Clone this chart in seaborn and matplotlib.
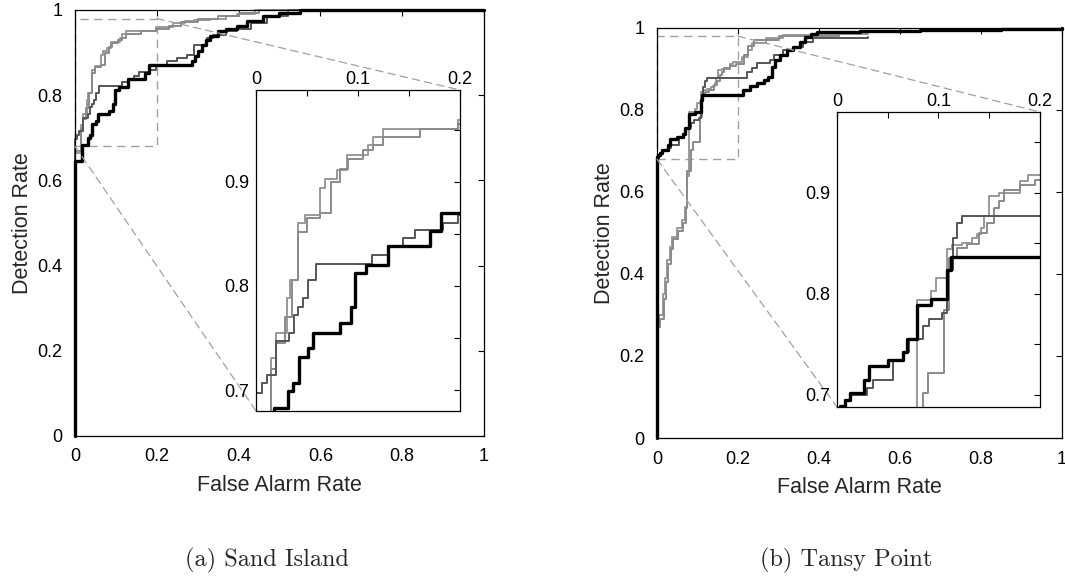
#ROC curves for the two sites, main view plus zoomed inset
import numpy as np
import pandas as pd
import seaborn as sns
import matplotlib.pyplot as plt
from matplotlib.patches import Rectangle, ConnectionPatch

# ---- Sand Island curves (false alarm rate, detection rate) ----
sand_black_fpr = [0, 0, 0.018, 0.031, 0.036, 0.042, 0.051, 0.056, 0.082, 0.093, 0.097, 0.108, 0.129, 0.171, 0.181,
                  0.285, 0.293, 0.30, 0.31, 0.32, 0.33, 0.35, 0.37, 0.395, 0.42, 0.46, 0.50, 0.55, 1.0]
sand_black_tpr = [0, 0.645, 0.683, 0.699, 0.707, 0.732, 0.740, 0.755, 0.764, 0.780, 0.812, 0.820, 0.838, 0.853, 0.870,
                  0.880, 0.891, 0.903, 0.918, 0.930, 0.940, 0.950, 0.955, 0.962, 0.975, 0.985, 0.993, 1.0, 1.0]

sand_dark_fpr = [0, 0, 0.0056, 0.011, 0.02, 0.032, 0.037, 0.0415, 0.046, 0.051, 0.059, 0.114, 0.129, 0.144, 0.156,
                 0.183, 0.198, 0.224, 0.249, 0.273, 0.29, 0.322, 0.338, 0.37, 0.395, 0.43, 0.47, 0.52, 1.0]
sand_dark_tpr = [0, 0.697, 0.707, 0.715, 0.747, 0.755, 0.772, 0.780, 0.788, 0.806, 0.821, 0.830, 0.838, 0.846, 0.854,
                 0.860, 0.868, 0.880, 0.887, 0.895, 0.918, 0.934, 0.942, 0.950, 0.956, 0.970, 0.985, 1.0, 1.0]

sand_gray1_fpr = [0, 0, 0.015, 0.02, 0.03, 0.033, 0.0415, 0.048, 0.063, 0.068, 0.079, 0.089, 0.11, 0.115, 0.125,
                  0.198, 0.24, 0.27, 0.29, 0.33, 0.37, 0.395, 0.44, 1.0]
sand_gray1_tpr = [0, 0.665, 0.731, 0.755, 0.788, 0.806, 0.860, 0.868, 0.894, 0.903, 0.911, 0.926, 0.935, 0.943, 0.951,
                  0.959, 0.969, 0.974, 0.977, 0.980, 0.985, 0.990, 1.0, 1.0]

sand_gray2_fpr = [0, 0, 0.015, 0.02, 0.028, 0.035, 0.0415, 0.05, 0.063, 0.074, 0.082, 0.09, 0.105, 0.115, 0.125,
                  0.161, 0.198, 0.23, 0.26, 0.30, 0.35, 0.40, 0.45, 1.0]
sand_gray2_tpr = [0, 0.67, 0.72, 0.745, 0.77, 0.806, 0.852, 0.865, 0.870, 0.900, 0.912, 0.922, 0.930, 0.935, 0.943,
                  0.951, 0.955, 0.962, 0.972, 0.978, 0.985, 0.993, 1.0, 1.0]

# ---- Tansy Point curves ----
tansy_black_fpr = [0, 0, 0.0026, 0.0076, 0.0125, 0.027, 0.0316, 0.05, 0.065, 0.069, 0.079, 0.093, 0.1085, 0.112,
                   0.213, 0.23, 0.246, 0.263, 0.275, 0.283, 0.291, 0.304, 0.32, 0.337, 0.353, 0.365, 0.38, 0.394,
                   0.5, 0.65, 0.85, 1.0]
tansy_black_tpr = [0, 0.685, 0.689, 0.695, 0.702, 0.715, 0.729, 0.735, 0.742, 0.755, 0.789, 0.795, 0.824, 0.836,
                   0.849, 0.859, 0.865, 0.873, 0.881, 0.906, 0.922, 0.934, 0.946, 0.954, 0.967, 0.979, 0.985, 0.990,
                   0.993, 0.996, 0.998, 1.0]

tansy_dark_fpr = [0, 0, 0.0026, 0.0076, 0.0125, 0.03, 0.035, 0.055, 0.065, 0.071, 0.085, 0.091, 0.103, 0.108, 0.114,
                  0.118, 0.123, 0.221, 0.234, 0.246, 0.279, 0.29, 0.312, 0.337, 0.361, 0.386, 0.52]
tansy_dark_tpr = [0, 0.685, 0.689, 0.695, 0.700, 0.707, 0.715, 0.735, 0.742, 0.755, 0.768, 0.775, 0.781, 0.824, 0.855,
                  0.870, 0.877, 0.893, 0.902, 0.914, 0.922, 0.934, 0.946, 0.954, 0.967, 0.975, 0.978]

tansy_gray1_fpr = [0, 0, 0.005, 0.015, 0.02, 0.024, 0.032, 0.036, 0.049, 0.061, 0.069, 0.073, 0.079, 0.093, 0.098,
                   0.108, 0.113, 0.123, 0.133, 0.138, 0.142, 0.145, 0.15, 0.16, 0.18, 0.188, 0.21, 0.225, 0.235,
                   0.27, 0.31, 0.40, 0.52]
tansy_gray1_tpr = [0, 0.28, 0.30, 0.35, 0.39, 0.434, 0.466, 0.49, 0.512, 0.532, 0.563, 0.64, 0.794, 0.803, 0.816,
                   0.844, 0.848, 0.850, 0.855, 0.859, 0.865, 0.877, 0.897, 0.900, 0.912, 0.918, 0.930, 0.946, 0.963,
                   0.975, 0.983, 0.985, 0.985]

tansy_gray2_fpr = [0, 0, 0.007, 0.017, 0.022, 0.027, 0.034, 0.039, 0.052, 0.064, 0.071, 0.075, 0.085, 0.09, 0.105,
                   0.11, 0.118, 0.128, 0.14, 0.148, 0.155, 0.16, 0.165, 0.18, 0.195, 0.215, 0.225, 0.24, 0.30,
                   0.45, 0.52]
tansy_gray2_tpr = [0, 0.27, 0.29, 0.34, 0.38, 0.425, 0.46, 0.485, 0.505, 0.525, 0.56, 0.65, 0.702, 0.722, 0.784,
                   0.835, 0.845, 0.849, 0.860, 0.870, 0.885, 0.892, 0.903, 0.908, 0.913, 0.935, 0.955, 0.970, 0.980,
                   0.990, 0.990]

main_ticks = [0, 0.2, 0.4, 0.6, 0.8, 1]
main_ticklabels = ['0', '0.2', '0.4', '0.6', '0.8', '1']
inset_xticks = [0, 0.05, 0.1, 0.15, 0.2]
inset_xticklabels = ['0', '', '0.1', '', '0.2']
inset_yticks = [0.7, 0.75, 0.8, 0.85, 0.9, 0.95]
inset_yticklabels = ['0.7', '', '0.8', '', '0.9', '']

captions = ['(a) Sand Island', '(b) Tansy Point']

sns.set_style("white")
plt.rcParams['font.family'] = ['Liberation Sans', 'DejaVu Sans']

GRAY1 = '#999999'
GRAY2 = '#8a8a8a'
DARK = '#555555'


def draw_curves(ax, curves, clip):
    for fpr, tpr, color, lw in curves:
        df = pd.DataFrame({'fpr': fpr, 'tpr': tpr})
        sns.lineplot(data=df, x='fpr', y='tpr', ax=ax, color=color, linewidth=lw,
                     drawstyle='steps-post', estimator=None, sort=False, legend=False, clip_on=clip)


def style_axes(ax, size=13):
    for s in ax.spines.values():
        s.set_color('black')
        s.set_linewidth(0.9)
    ax.tick_params(direction='in', length=4, width=0.8, top=True, right=True,
                   labelsize=size, colors='black', pad=9)
    ax.set_xlabel('')
    ax.set_ylabel('')


fig = plt.figure(figsize=(10.65, 5.77), dpi=100)

panels = [
    dict(main=[0.0704, 0.2444, 0.3840, 0.7383], inset=[0.2404, 0.2877, 0.1915, 0.5563], iylim=(0.68, 0.988),
         curves=[(sand_gray1_fpr, sand_gray1_tpr, GRAY1, 1.4), (sand_gray2_fpr, sand_gray2_tpr, GRAY2, 1.4),
                 (sand_dark_fpr, sand_dark_tpr, DARK, 1.4), (sand_black_fpr, sand_black_tpr, 'black', 2.4)],
         cap_x=0.251),
    dict(main=[0.6169, 0.2409, 0.3803, 0.7106], inset=[0.7859, 0.2946, 0.1906, 0.5113], iylim=(0.688, 0.98),
         curves=[(tansy_gray1_fpr, tansy_gray1_tpr, GRAY1, 1.4), (tansy_gray2_fpr, tansy_gray2_tpr, GRAY2, 1.4),
                 (tansy_dark_fpr, tansy_dark_tpr, DARK, 1.4), (tansy_black_fpr, tansy_black_tpr, 'black', 2.4)],
         cap_x=0.795),
]

for p, cap in zip(panels, captions):
    ax = fig.add_axes(p['main'])
    draw_curves(ax, p['curves'], clip=False)
    ax.set_xlim(0, 1)
    ax.set_ylim(0, 1)
    ax.set_xticks(main_ticks)
    ax.set_xticklabels(main_ticklabels)
    ax.set_yticks(main_ticks)
    ax.set_yticklabels(main_ticklabels)
    style_axes(ax)
    ax.set_xlabel('False Alarm Rate', fontsize=15.5, labelpad=7)
    ax.set_ylabel('Detection Rate', fontsize=15.5, labelpad=3)

    # zoom window
    ax.add_patch(Rectangle((0, 0.68), 0.2, 0.30, fill=False, edgecolor='#a0a0a0',
                           linestyle=(0, (6, 4)), linewidth=1.0, zorder=1, clip_on=False))

    ins = fig.add_axes(p['inset'])
    ins.set_zorder(3)
    draw_curves(ins, p['curves'], clip=True)
    ins.set_xlim(0, 0.2)
    ins.set_ylim(*p['iylim'])
    ins.set_xticks(inset_xticks)
    ins.set_xticklabels(inset_xticklabels)
    ins.set_yticks(inset_yticks)
    ins.set_yticklabels(inset_yticklabels)
    style_axes(ins)
    ins.tick_params(axis='x', labeltop=True, labelbottom=False, pad=1.5)
    ins.tick_params(axis='y', pad=5)

    for a, b in [((0.2, 0.98), (1, 1)), ((0, 0.68), (0, 0))]:
        con = ConnectionPatch(xyA=a, coordsA=ax.transData, xyB=b, coordsB=ins.transAxes,
                              color='#a0a0a0', linestyle=(0, (6, 4)), linewidth=0.9, zorder=2)
        fig.add_artist(con)

    fig.text(p['cap_x'], 0.0295, cap, fontfamily='cmr10', fontsize=17.5, ha='center', va='center')

fig.savefig('out.png', dpi=100)
